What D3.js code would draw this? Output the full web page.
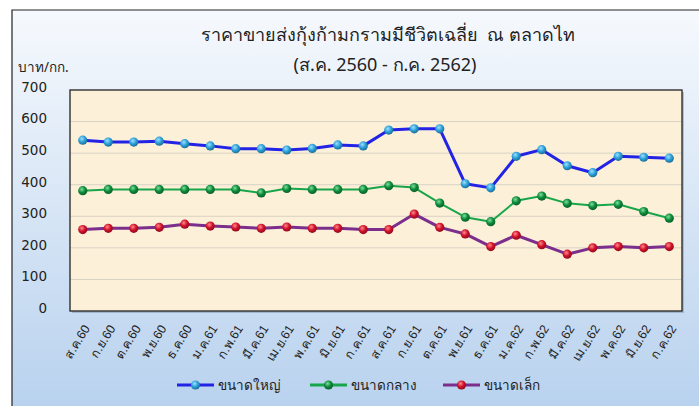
<!DOCTYPE html>
<html>
<head>
<meta charset="utf-8">
<script src="https://cdn.jsdelivr.net/npm/d3@7"></script>
<style>
  body { margin: 0; background: #fff; }
  svg { display: block; font-family: Tahoma, "Noto Sans", "DejaVu Sans", sans-serif; }
  .title { white-space: pre; }
</style>
</head>
<body>
<svg id="chart"></svg>
<script>
const months = ['ส.ค.60','ก.ย.60','ต.ค.60','พ.ย.60','ธ.ค.60','ม.ค.61','ก.พ.61','มี.ค.61','เม.ย.61','พ.ค.61','มิ.ย.61','ก.ค.61',
  'ส.ค.61','ก.ย.61','ต.ค.61','พ.ย.61','ธ.ค.61','ม.ค.62','ก.พ.62','มี.ค.62','เม.ย.62','พ.ค.62','มิ.ย.62','ก.ค.62'];
const large  = [541,535,535,538,530,523,514,514,510,515,526,523,573,577,577,403,390,490,511,460,438,490,487,484];
const medium = [381,385,385,385,385,385,385,374,388,385,385,385,397,391,342,297,283,349,364,341,334,338,315,294];
const small  = [258,262,262,265,275,269,266,262,266,262,262,258,258,307,265,244,204,240,210,180,200,204,200,204];
const seriesNames = ['ขนาดใหญ่','ขนาดกลาง','ขนาดเล็ก'];
const yTicks = [0,100,200,300,400,500,600,700];

const W = 699, H = 406;
const margin = { top: 90, right: 17, bottom: 95, left: 70 };
const width = W - margin.left - margin.right;
const height = H - margin.top - margin.bottom;

const svg = d3.select('#chart').attr('width', W).attr('height', H);
const defs = svg.append('defs');

const bg = defs.append('linearGradient').attr('id', 'bg').attr('x1', 0).attr('y1', 0).attr('x2', 0).attr('y2', 1);
bg.append('stop').attr('offset', '0%').attr('stop-color', '#f6f9fd');
bg.append('stop').attr('offset', '100%').attr('stop-color', '#b7d1ee');

const series = [
  { name: seriesNames[0], values: large,  line: '#2323e6', lw: 3,   dot: '#2a9fd8', hi: '#9fe0ff' },
  { name: seriesNames[1], values: medium, line: '#19a64a', lw: 2,   dot: '#0d8a3a', hi: '#7ee09e' },
  { name: seriesNames[2], values: small,  line: '#7b2e8c', lw: 3,   dot: '#d0102a', hi: '#ff8a8a' }
];
series.forEach((s, i) => {
  const g = defs.append('radialGradient').attr('id', 'dot' + i)
    .attr('cx', '40%').attr('cy', '35%').attr('r', '65%');
  g.append('stop').attr('offset', '0%').attr('stop-color', s.hi);
  g.append('stop').attr('offset', '55%').attr('stop-color', s.dot);
  g.append('stop').attr('offset', '100%').attr('stop-color', d3.color(s.dot).darker(1));
});

// chart background and frame
svg.append('rect').attr('x', 12).attr('y', 10).attr('width', W).attr('height', H)
  .attr('fill', 'url(#bg)');
svg.append('path').attr('d', `M12,${H}V10H${W}`).attr('fill', 'none').attr('stroke', '#222').attr('stroke-width', 1.2);

const x = d3.scaleBand().domain(months).range([0, width]);
const y = d3.scaleLinear().domain([0, 700]).range([height, 0]);

const g = svg.append('g').attr('transform', `translate(${margin.left},${margin.top})`);

g.append('rect').attr('x', 2).attr('y', 2).attr('width', width).attr('height', height).attr('fill', '#7f93a8').attr('opacity', 0.5);
g.append('rect').attr('width', width).attr('height', height).attr('fill', '#fcf0d8');

g.append('g').selectAll('line').data(yTicks.filter(d => d > 0 && d < 700)).join('line')
  .attr('x1', 0).attr('x2', width).attr('y1', d => y(d)).attr('y2', d => y(d))
  .attr('stroke', '#d9d2c4').attr('stroke-width', 1);

g.append('rect').attr('width', width).attr('height', height).attr('fill', 'none')
  .attr('stroke', '#222').attr('stroke-width', 1.3);

// y axis
const yAxis = g.append('g').call(d3.axisLeft(y).tickValues(yTicks).tickSize(0).tickPadding(23));
yAxis.select('.domain').remove();
yAxis.selectAll('text').attr('font-size', 13.5).attr('fill', '#222').attr('dy', '0.1em')
  .attr('font-family', 'Verdana, "DejaVu Sans", sans-serif').attr('textLength', null);

// x axis
const xAxis = g.append('g').attr('transform', `translate(0,${height})`)
  .call(d3.axisBottom(x).tickSize(0).tickPadding(0));
xAxis.select('.domain').remove();
xAxis.selectAll('text')
  .attr('font-size', 12.5).attr('fill', '#222')
  .attr('text-anchor', 'end')
  .attr('transform', 'translate(4,15) rotate(-58)')
  .attr('dy', '0.35em').attr('y', 0).attr('x', 0);

const line = d3.line().x((d, i) => x(months[i]) + x.bandwidth() / 2).y(d => y(d));

series.forEach((s, i) => {
  g.append('path').datum(s.values).attr('d', line)
    .attr('fill', 'none').attr('stroke', s.line).attr('stroke-width', s.lw).attr('stroke-linejoin', 'round');
  g.append('g').selectAll('circle').data(s.values).join('circle')
    .attr('cx', (d, j) => x(months[j]) + x.bandwidth() / 2)
    .attr('cy', d => y(d))
    .attr('r', 4.6)
    .attr('fill', `url(#dot${i})`);
});

// titles
svg.append('text').attr('class', 'title').attr('x', 388).attr('y', 41).attr('text-anchor', 'middle')
  .attr('font-size', 18).attr('fill', '#222').text('ราคาขายส่งกุ้งก้ามกรามมีชีวิตเฉลี่ย  ณ ตลาดไท');
svg.append('text').attr('class', 'title').attr('x', 385).attr('y', 71).attr('text-anchor', 'middle')
  .attr('font-size', 18).attr('fill', '#222').text('(ส.ค. 2560 - ก.ค. 2562)');
svg.append('text').attr('x', 18).attr('y', 72)
  .attr('font-size', 13.5).attr('fill', '#222').text('บาท/กก.');

// legend
const legendX = [177, 310, 443];
series.forEach((s, i) => {
  const lg = svg.append('g').attr('transform', `translate(${legendX[i]},385)`);
  lg.append('line').attr('x1', 0).attr('x2', 37).attr('stroke', s.line).attr('stroke-width', 3);
  lg.append('circle').attr('cx', 18.5).attr('r', 4.6).attr('fill', `url(#dot${i})`);
  lg.append('text').attr('x', 41).attr('dy', '0.35em').attr('font-size', 13.5).attr('fill', '#222').text(s.name);
});
</script>
</body>
</html>
